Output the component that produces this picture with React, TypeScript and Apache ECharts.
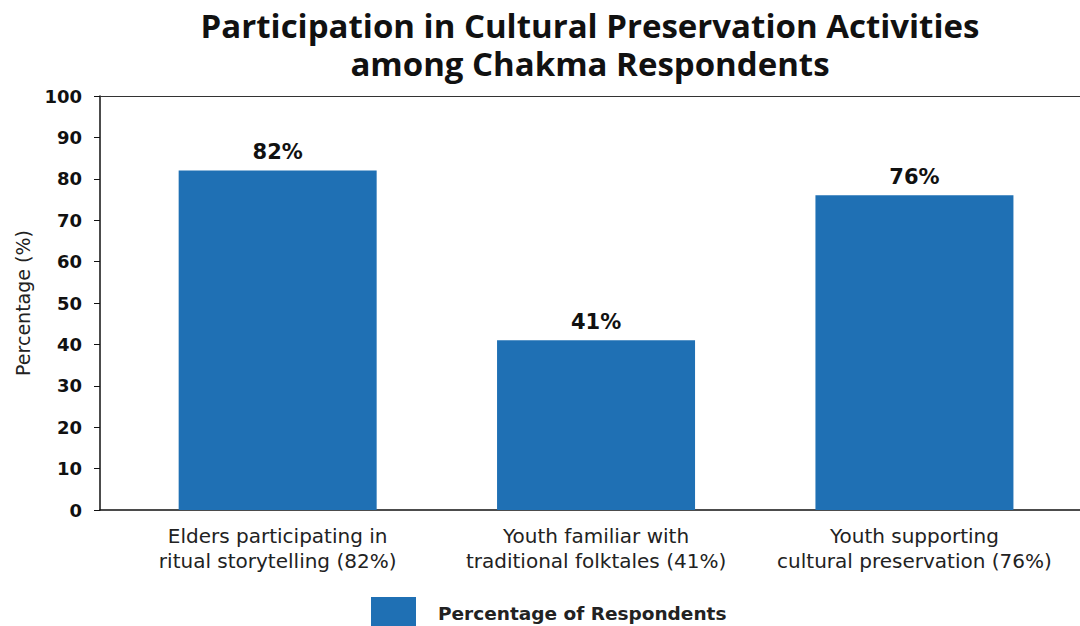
import React, { useEffect, useRef } from "react";
import * as echarts from "echarts";

const categories = [
  "Elders participating in\nritual storytelling (82%)",
  "Youth familiar with\ntraditional folktales (41%)",
  "Youth supporting\ncultural preservation (76%)",
];
const values = [82, 41, 76];
const seriesName = "Percentage of Respondents";
const titleLines = ["Participation in Cultural Preservation Activities", "among Chakma Respondents"];
const yAxisName = "Percentage (%)";

export default function App() {
  const ref = useRef<HTMLDivElement>(null);
  useEffect(() => {
    if (!ref.current) return;
    const chart = echarts.init(ref.current, null, { renderer: "svg" });
    const titleFont = "'Open Sans', Inter, sans-serif";
    const wide = "'DejaVu Sans', 'Open Sans', sans-serif";
    const titleStyle = {
      fontFamily: titleFont,
      fontSize: 33,
      fontWeight: 700,
      color: "#111111",
      lineHeight: 33,
    };
    chart.setOption({
      animation: false,
      backgroundColor: "#ffffff",
      title: [
        { text: titleLines[0], left: 590, textAlign: "center", top: 9, padding: 0, textStyle: titleStyle },
        { text: titleLines[1], left: 590, textAlign: "center", top: 47, padding: 0, textStyle: titleStyle },
      ],
      legend: {
        left: 371,
        top: 597,
        itemWidth: 45,
        itemHeight: 32,
        icon: "rect",
        padding: 0,
        data: [seriesName],
        textStyle: {
          fontFamily: wide,
          fontSize: 18.5,
          fontWeight: 700,
          color: "#222222",
          padding: [0, 0, 0, 17],
        },
      },
      grid: { left: 100, right: 0, top: 96, bottom: 116 },
      xAxis: [
        {
          type: "value",
          min: -0.558,
          max: 2.52,
          axisLine: { show: true, onZero: false, lineStyle: { color: "#111", width: 1.5 } },
          axisTick: { show: false },
          splitLine: { show: false },
          axisLabel: {
            customValues: [0, 1, 2],
            formatter: (v: number) => categories[Math.round(v)] ?? "",
            fontFamily: wide,
            fontSize: 20,
            color: "#222222",
            lineHeight: 25,
            margin: 13,
          },
        },
        {
          type: "value",
          position: "top",
          min: -0.558,
          max: 2.52,
          axisLine: { show: true, onZero: false, lineStyle: { color: "#333", width: 1.2 } },
          axisTick: { show: false },
          axisLabel: { show: false },
          splitLine: { show: false },
        },
      ],
      yAxis: {
        type: "value",
        min: 0,
        max: 100,
        interval: 10,
        name: yAxisName,
        nameLocation: "middle",
        nameGap: 68,
        nameTextStyle: { fontFamily: wide, fontSize: 19, color: "#222222" },
        axisLine: { show: true, onZero: false, lineStyle: { color: "#111", width: 1.5 } },
        axisTick: { show: true, length: 6, lineStyle: { color: "#111" } },
        splitLine: { show: false },
        axisLabel: {
          fontFamily: wide,
          fontSize: 18,
          fontWeight: 700,
          color: "#111111",
          margin: 18,
        },
      },
      series: [
        {
          name: seriesName,
          type: "bar",
          xAxisIndex: 0,
          barWidth: 198,
          itemStyle: { color: "#1f70b4" },
          data: values.map((v, i) => [i, v]),
          label: {
            show: true,
            position: "top",
            distance: 8,
            formatter: (p: any) => `${p.value[1]}%`,
            fontFamily: wide,
            fontSize: 21,
            fontWeight: 700,
            color: "#111111",
          },
        },
      ],
    });
    return () => chart.dispose();
  }, []);
  return (
    <div
      ref={ref}
      style={{ position: "fixed", left: 0, top: 0, width: 1080, height: 626 }}
    />
  );
}
